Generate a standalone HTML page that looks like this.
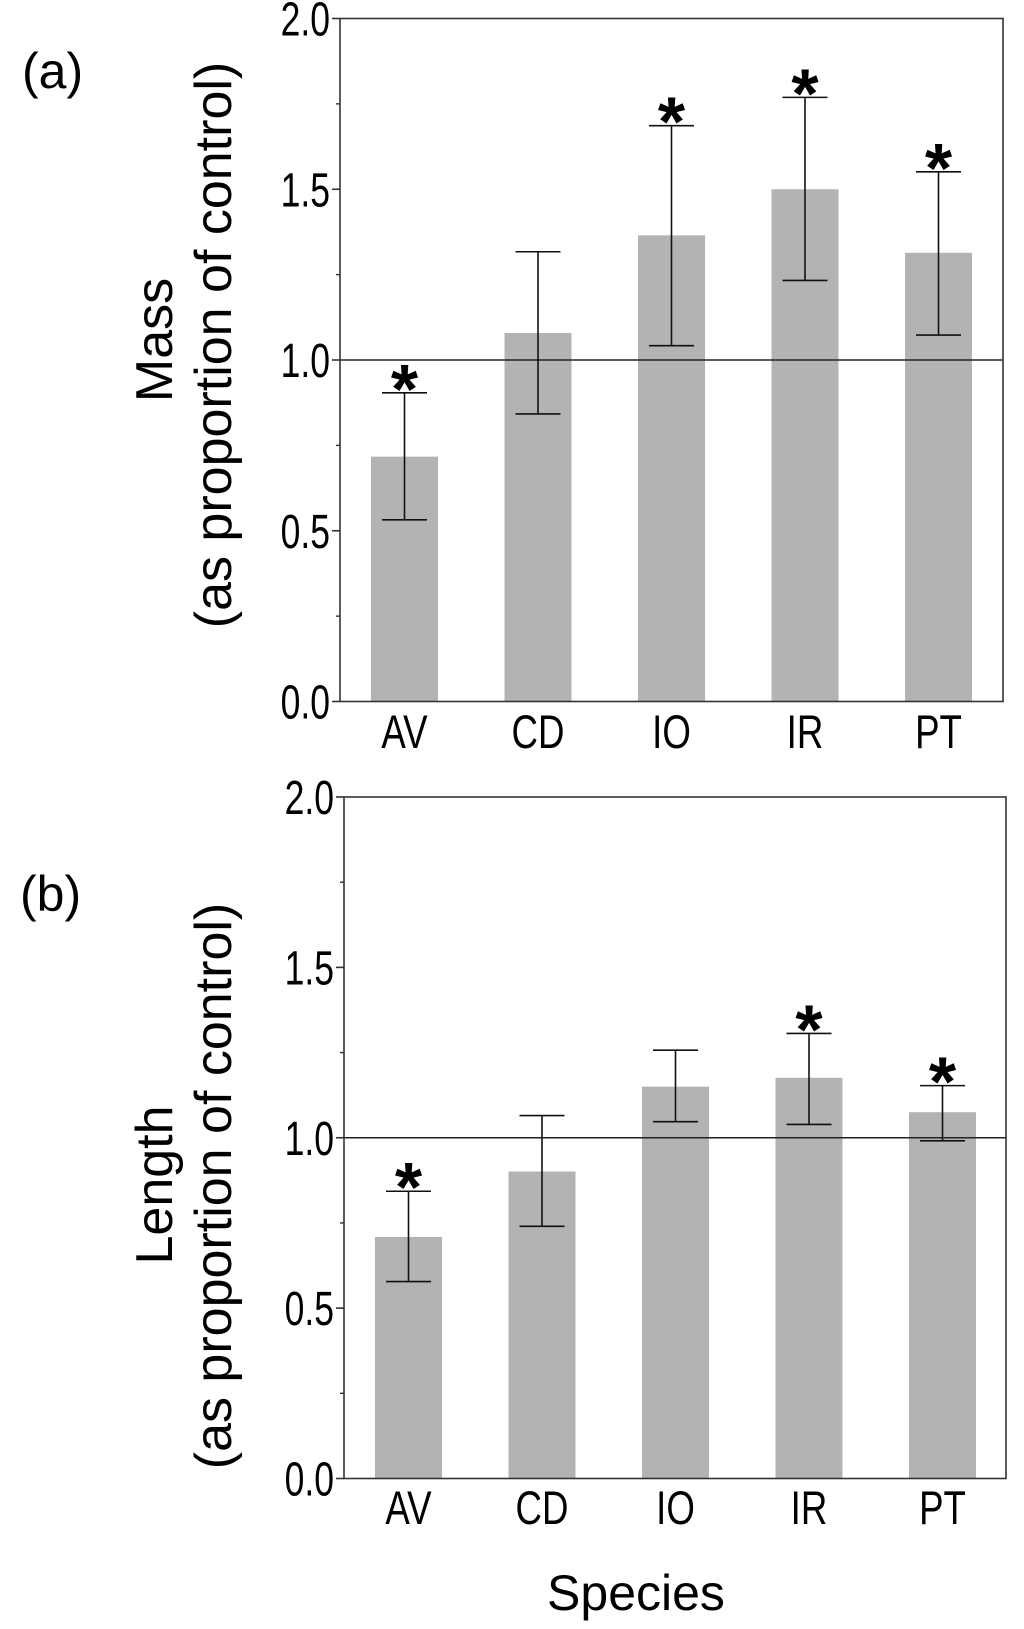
<!DOCTYPE html>
<html>
<head>
<meta charset="utf-8">
<style>
  html, body { margin: 0; padding: 0; background: #fff; }
  svg { display: block; }
  text { font-family: "Liberation Sans", "DejaVu Sans", sans-serif; fill: #000; }
</style>
</head>
<body>
<svg id="fig" width="1024" height="1629" viewBox="0 0 1024 1629" xmlns="http://www.w3.org/2000/svg">
  <text x="22" y="88" font-size="50">(a)</text>
  <text x="20" y="911" font-size="50">(b)</text>
  <text transform="translate(172,340) rotate(-90)" text-anchor="middle" font-size="52">Mass</text>
  <text transform="translate(231,345) rotate(-90)" text-anchor="middle" font-size="52">(as proportion of control)</text>
  <text transform="translate(172,1185) rotate(-90)" text-anchor="middle" font-size="52">Length</text>
  <text transform="translate(231,1186) rotate(-90)" text-anchor="middle" font-size="52">(as proportion of control)</text>
  <text x="636" y="1610" text-anchor="middle" font-size="50">Species</text>
  <g id="panelA"></g>
  <g id="panelB"></g>
</svg>
<script>
const categories = ["AV", "CD", "IO", "IR", "PT"];
const massMeans = [0.717, 1.079, 1.365, 1.50, 1.314];
const massUpper = [0.904, 1.317, 1.686, 1.769, 1.551];
const massLower = [0.532, 0.842, 1.042, 1.233, 1.073];
const massSig = [true, false, true, true, true];
const lengthMeans = [0.709, 0.901, 1.150, 1.176, 1.075];
const lengthUpper = [0.843, 1.065, 1.257, 1.306, 1.153];
const lengthLower = [0.578, 0.740, 1.047, 1.039, 0.991];
const lengthSig = [true, false, false, true, true];
const majorTicks = [0, 0.5, 1.0, 1.5, 2.0];
const tickLabels = ["0.0", "0.5", "1.0", "1.5", "2.0"];
const minorTicks = [0.25, 0.75, 1.25, 1.75];
const yMax = 2.0;
const refValue = 1.0;

const NS = "http://www.w3.org/2000/svg";
function mk(parent, tag, attrs) {
  const el = document.createElementNS(NS, tag);
  for (const k in attrs) el.setAttribute(k, attrs[k]);
  parent.appendChild(el);
  return el;
}

function drawPanel(g, box, means, upper, lower, sig, key) {
  const y = v => box.bottom - (v / yMax) * (box.bottom - box.top);
  const x = i => box.left + box.offset + i * 133.5;
  const bw = 67, cap = 45;
  means.forEach((m, i) => {
    const r = mk(g, "rect", {x: x(i) - bw / 2, y: y(m), width: bw, height: y(0) - y(m), fill: "#b3b3b3"});
    
    
  });
  const ref = mk(g, "line", {x1: box.left, x2: box.right, y1: y(refValue), y2: y(refValue), stroke: "#222", "stroke-width": 1.6});
  
  
  means.forEach((m, i) => {
    const eg = mk(g, "g", {stroke: "#111", "stroke-width": 1.6});
    
    
    mk(eg, "line", {x1: x(i), x2: x(i), y1: y(upper[i]), y2: y(lower[i])});
    mk(eg, "line", {x1: x(i) - cap / 2, x2: x(i) + cap / 2, y1: y(upper[i]), y2: y(upper[i])});
    mk(eg, "line", {x1: x(i) - cap / 2, x2: x(i) + cap / 2, y1: y(lower[i]), y2: y(lower[i])});
    if (sig[i]) {
      const t = mk(g, "text", {x: x(i), y: y(upper[i]) + 20, "text-anchor": "middle", "font-size": 70, "font-weight": "bold"});
      t.textContent = "*";
      
      
    }
    const lab = mk(g, "text", {transform: "translate(" + x(i) + "," + box.labelY + ") scale(0.78,1)", "text-anchor": "middle", "font-size": 47});
    lab.textContent = categories[i];
    
    
  });
  const fr = mk(g, "rect", {x: box.left, y: box.top, width: box.right - box.left, height: box.bottom - box.top, fill: "none", stroke: "#333", "stroke-width": 1.6});
  
  
  majorTicks.forEach((v, i) => {
    const tk = mk(g, "line", {x1: box.left - 8, x2: box.left, y1: y(v), y2: y(v), stroke: "#333", "stroke-width": 1.6});
    
    
    const t = mk(g, "text", {transform: "translate(" + (box.left - 10) + "," + (y(v) + 17) + ") scale(0.74,1)", "text-anchor": "end", "font-size": 48});
    t.textContent = tickLabels[i];
    
    
  });
  minorTicks.forEach(v => {
    const tk = mk(g, "line", {x1: box.left - 4, x2: box.left, y1: y(v), y2: y(v), stroke: "#333", "stroke-width": 1.4});
    
    
  });
}

drawPanel(document.getElementById("panelA"), {left: 340, right: 1003, top: 18.5, bottom: 701.5, offset: 64.5, labelY: 748}, massMeans, massUpper, massLower, massSig, "mass");
drawPanel(document.getElementById("panelB"), {left: 344, right: 1006, top: 797, bottom: 1478.5, offset: 64.5, labelY: 1524}, lengthMeans, lengthUpper, lengthLower, lengthSig, "length");
</script>
</body>
</html>
